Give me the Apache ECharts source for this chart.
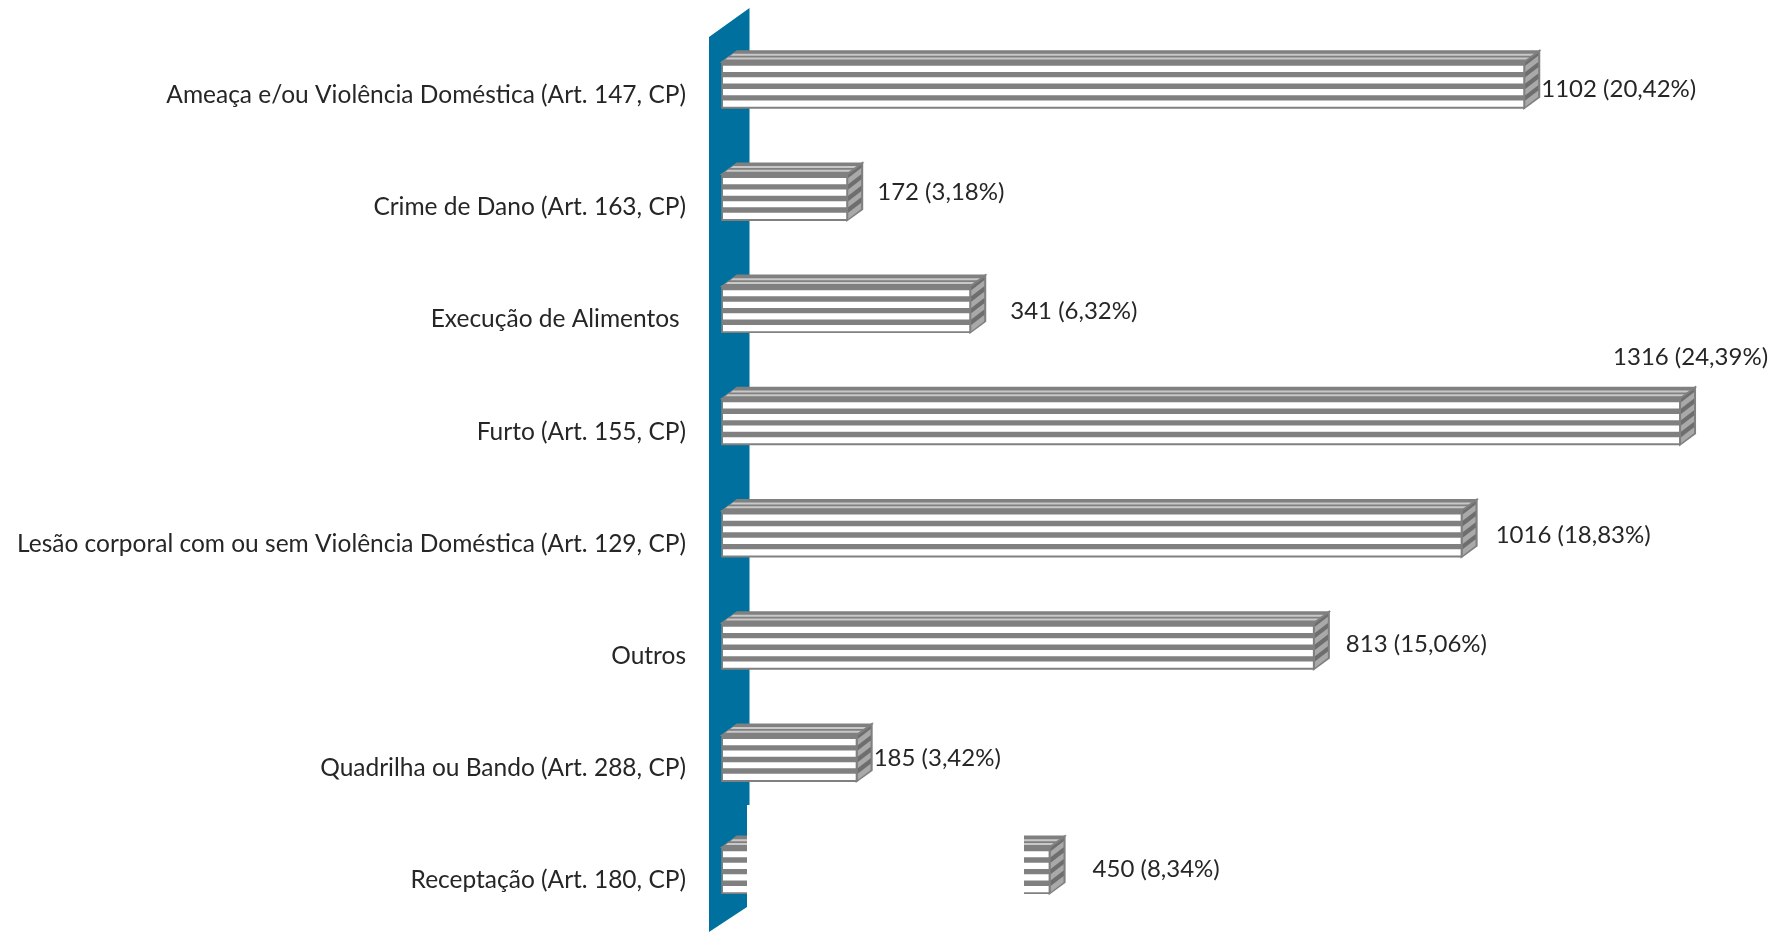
<!DOCTYPE html>
<html>
<head>
<meta charset="utf-8">
<style>html,body{margin:0;padding:0;background:#fff}#c{width:1782px;height:932px}</style>
<script src="https://cdn.jsdelivr.net/npm/echarts@6/dist/echarts.min.js"></script>
</head>
<body>
<div id="c"></div>
<script>
const categories = [
  'Ameaça e/ou Violência Doméstica (Art. 147, CP)',
  'Crime de Dano (Art. 163, CP)',
  'Execução de Alimentos ',
  'Furto (Art. 155, CP)',
  'Lesão corporal com ou sem Violência Doméstica (Art. 129, CP)',
  'Outros',
  'Quadrilha ou Bando (Art. 288, CP)',
  'Receptação (Art. 180, CP)'
];
const counts = [1102, 172, 341, 1316, 1016, 813, 185, 450];
const percents = ['20,42', '3,18', '6,32', '24,39', '18,83', '15,06', '3,42', '8,34'];
const labelDx = [17, 30, 40, -67, 34, 32, 17, 43];
const labelDy = [-5.4, -15, -8.2, -74.9, -8.5, -12, -9.9, -11];

const FONT = 'Lato, Carlito, sans-serif';
const GRAY = '#808080', SIDE = '#6e6e6e', LIGHT = '#a9a9a9', INK = '#262626';
const DEPTH_X = 15, DEPTH_Y = 11, FRONT_H = 46, CENTER_SHIFT = -10.15, PERIOD = 11.6, WHITE_H = 6.2, WHITE_START = 3.8;

function renderBar(params, api) {
  const i = api.value(1);
  const p = api.coord([api.value(0), i]);
  const o = api.coord([0, i]);
  const x0 = o[0], x1 = p[0];
  const y0 = p[1] + CENTER_SHIFT - FRONT_H / 2, y1 = y0 + FRONT_H;
  const kids = [];
  const poly = (pts, fill, stroke, lw) => kids.push({
    type: 'polygon', shape: { points: pts },
    style: { fill: fill, stroke: stroke || null, lineWidth: lw || 0 }
  });
  // top face
  poly([[x0, y0], [x0 + DEPTH_X, y0 - DEPTH_Y], [x1 + DEPTH_X, y0 - DEPTH_Y], [x1, y0]], GRAY, GRAY, 1.5);
  [0.22, 0.56].forEach(t => {
    const a = t * DEPTH_Y, b = a + 2;
    const sx = v => v / DEPTH_Y * DEPTH_X;
    poly([[x0 + sx(a), y0 - a], [x1 + sx(a), y0 - a], [x1 + sx(b), y0 - b], [x0 + sx(b), y0 - b]], '#c8c8c8');
  });
  // side face
  poly([[x1, y0], [x1 + DEPTH_X, y0 - DEPTH_Y], [x1 + DEPTH_X, y1 - DEPTH_Y], [x1, y1]], SIDE, GRAY, 2);
  for (let k = 0; k < 4; k++) {
    const a = y0 + WHITE_START + k * PERIOD, b = a + WHITE_H;
    poly([[x1 + 1, a], [x1 + DEPTH_X - 1, a - DEPTH_Y + 1], [x1 + DEPTH_X - 1, b - DEPTH_Y + 1], [x1 + 1, b]], LIGHT);
  }
  // front face
  kids.push({ type: 'rect', shape: { x: x0, y: y0, width: x1 - x0, height: FRONT_H },
    style: { fill: GRAY, stroke: GRAY, lineWidth: 1.5 } });
  for (let k = 0; k < 4; k++) {
    kids.push({ type: 'rect', shape: { x: x0 + 1, y: y0 + WHITE_START + k * PERIOD, width: x1 - x0 - 2, height: WHITE_H },
      style: { fill: '#fff' } });
  }
  return { type: 'group', children: kids };
}

function renderLabel(params, api) {
  const i = api.value(1);
  const p = api.coord([api.value(0), i]);
  return {
    type: 'text',
    x: p[0] + labelDx[i], y: p[1] + labelDy[i],
    style: {
      text: counts[i] + ' (' + percents[i] + '%)',
      fill: INK, font: '24px ' + FONT, textAlign: 'left', textVerticalAlign: 'middle'
    }
  };
}

const rows = counts.map((v, i) => [v, i]);
const chart = echarts.init(document.getElementById('c'), null, { renderer: 'canvas' });
chart.setOption({
  animation: false,
  backgroundColor: '#fff',
  grid: { left: 722, top: 39, width: 1019.2, height: 897.6, outerBoundsMode: 'none' },
  xAxis: { type: 'value', min: 0, max: 1400, show: false },
  yAxis: {
    type: 'category', data: categories, inverse: true,
    axisLine: { show: false }, axisTick: { show: false }, splitLine: { show: false },
    axisLabel: { margin: 36, color: INK, fontFamily: FONT, fontSize: 24.5, interval: 0 }
  },
  graphic: [
    { type: 'polygon', z: 0, silent: true,
      shape: { points: [[709, 37], [749.5, 8], [749.5, 932], [709, 932]] },
      style: { fill: '#00709f' } },
    { type: 'rect', z: 50, silent: true,
      shape: { x: 747, y: 805, width: 277, height: 127 }, style: { fill: '#fff' } },
    { type: 'polygon', z: 50, silent: true,
      shape: { points: [[709, 932], [747, 907], [747, 932]] }, style: { fill: '#fff' } }
  ],
  series: [
    { type: 'custom', z: 10, coordinateSystem: 'cartesian2d', data: rows, encode: { x: 0, y: 1 },
      renderItem: renderBar, silent: true },
    { type: 'custom', z: 60, coordinateSystem: 'cartesian2d', data: rows, encode: { x: 0, y: 1 },
      renderItem: renderLabel, silent: true }
  ]
});
</script>
</body>
</html>
